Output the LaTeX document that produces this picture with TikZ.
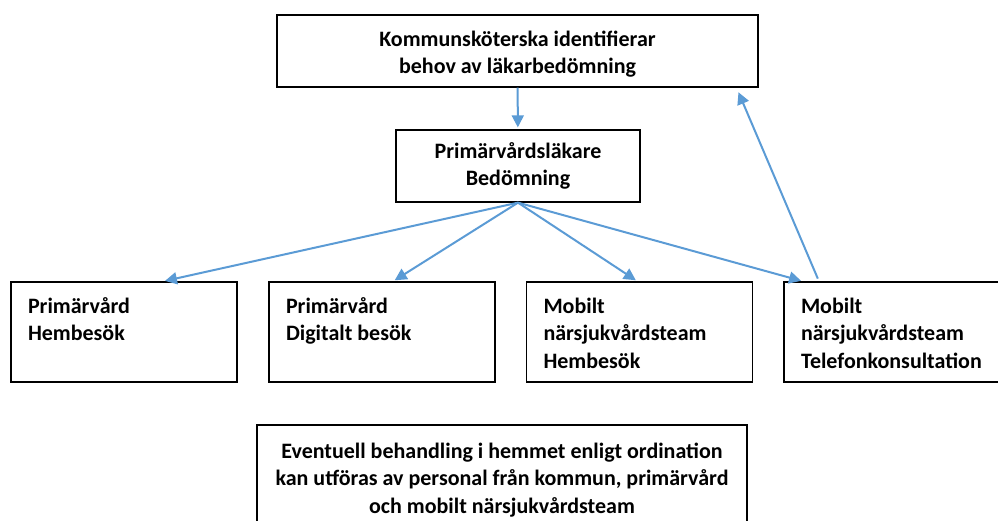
\documentclass[tikz,border=0pt]{standalone}
\usepackage{fontspec}
\setmainfont{Carlito}
\usepackage{xcolor}
\definecolor{pilblue}{HTML}{5B9BD5}
\usetikzlibrary{arrows.meta,calc}
\tikzset{
	box/.style={
			draw, line width=1.3pt, inner sep=0pt, align=center,
			font=\bfseries\fontsize{22}{27.5}\selectfont
		},
	vardbox/.style={
			draw, line width=1.3pt, inner xsep=17pt, inner ysep=12pt,
			minimum width=226pt, minimum height=100pt,
			font=\bfseries\fontsize{22}{27.5}\selectfont
		},
	pil/.style={
			draw=pilblue, line width=2pt, -{Triangle[length=12pt,width=12pt]},
			shorten >=2pt
		}
}
\newcommand{\vardtext}[1]{\parbox[t][76pt][t]{192pt}{\raggedright\strut #1}}

\begin{document}
\begin{tikzpicture}[x=1pt,y=-1pt]
		\useasboundingbox (0,0) rectangle (998,520);
		
		\node[box, minimum width=481pt, minimum height=72pt] (kommun) at (517.5,51)
		{\parbox{300pt}{\vspace*{6pt}\centering Kommunsköterska identifierar\\behov av läkarbedömning}};
		\node[box, minimum width=244pt, minimum height=72pt] (lakare) at (518,166)
		{Primärvårdsläkare\\Bedömning};
		
		\node[vardbox] (hem) at (124,332) {\vardtext{Primärvård\\Hembesök}};
		\node[vardbox] (digital) at (382,332) {\vardtext{Primärvård\\Digitalt besök}};
		\node[vardbox] (mobhem) at (639.5,332) {\vardtext{Mobilt\\närsjukvårdsteam\\Hembesök}};
		\node[vardbox] (mobtel) at (897,332) {\vardtext{Mobilt\\närsjukvårdsteam\\Telefonkonsultation}};
		
		\node[box, minimum width=490pt, minimum height=110pt] (behandling) at (502,480)
		{Eventuell behandling i hemmet enligt ordination\\kan utföras av personal från kommun, primärvård\\och mobilt närsjukvårdsteam};
		
		\draw[pil] (kommun) -- (lakare);
		\draw[pil] (lakare.south) -- ([xshift=39pt]hem.north);
		\draw[pil] (lakare.south) -- ([xshift=11pt]digital.north);
		\draw[pil] (lakare.south) -- ([xshift=-2pt]mobhem.north);
		\draw[pil] (lakare.south) -- ([xshift=-94pt]mobtel.north);
		\draw[pil, shorten <=3pt, shorten >=5pt] ([xshift=-78pt]mobtel.north) -- ([xshift=219pt]kommun.south);
	\end{tikzpicture}
\end{document}
